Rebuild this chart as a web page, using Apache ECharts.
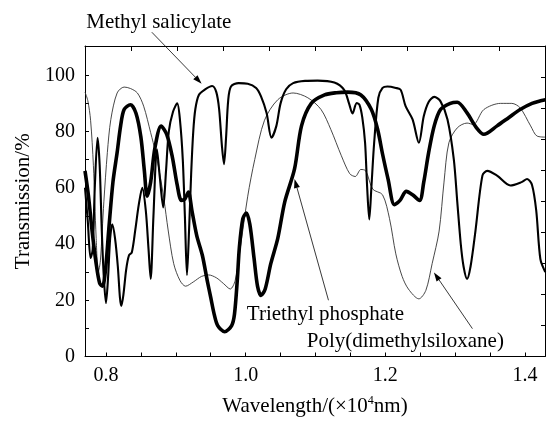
<!DOCTYPE html>
<html>
<head>
<meta charset="utf-8">
<script src="https://cdn.jsdelivr.net/npm/echarts/dist/echarts.min.js"></script>
<style>
  html, body { margin: 0; padding: 0; background: #fff; }
  #chart { width: 548px; height: 422px; }
</style>
</head>
<body>
<div id="chart"></div>
<script>
// NIR transmission spectra of three liquids (wavelength in 10^4 nm)

// Poly(dimethylsiloxane) — thin line
const pdmsWavelength = [0.770, 0.774, 0.778, 0.782, 0.786, 0.789, 0.792, 0.797, 0.802, 0.807, 0.816, 0.826, 0.835, 0.845, 0.854, 0.864, 0.871, 0.877, 0.883, 0.889, 0.897, 0.906, 0.914, 0.925, 0.937, 0.947, 0.958, 0.968, 0.978, 0.985, 0.992, 1.003, 1.013, 1.027, 1.046, 1.068, 1.089, 1.108, 1.122, 1.137, 1.149, 1.157, 1.165, 1.172, 1.182, 1.196, 1.206, 1.215, 1.224, 1.233, 1.248, 1.258, 1.267, 1.277, 1.284, 1.291, 1.303, 1.317, 1.326, 1.341, 1.365, 1.381, 1.393, 1.408, 1.417, 1.429];
const pdmsTransmission = [94, 91, 84, 68, 42, 30, 34, 55, 72.5, 84.3, 93.7, 95.8, 95.3, 93.7, 89, 79.6, 72.5, 65, 56, 45, 33, 27, 25, 26.5, 28.5, 29, 28, 26, 24, 27, 38, 57, 70, 84, 91.3, 93.7, 92, 87.8, 80.7, 71.4, 65, 64, 66.5, 66, 59.5, 57.5, 49, 36.5, 28.5, 24, 20.5, 23.5, 33, 44.6, 62, 76, 81.3, 83, 82.5, 87.8, 90, 90, 88.4, 82, 78.4, 78];

// Triethyl phosphate — thickest line
const tepWavelength = [0.770, 0.775, 0.780, 0.786, 0.791, 0.795, 0.799, 0.804, 0.810, 0.816, 0.821, 0.826, 0.835, 0.843, 0.850, 0.855, 0.859, 0.864, 0.870, 0.879, 0.887, 0.895, 0.902, 0.908, 0.913, 0.918, 0.923, 0.930, 0.938, 0.945, 0.950, 0.955, 0.960, 0.970, 0.980, 0.984, 0.988, 0.991, 0.996, 1.001, 1.006, 1.012, 1.017, 1.022, 1.028, 1.036, 1.046, 1.056, 1.070, 1.080, 1.094, 1.113, 1.130, 1.146, 1.165, 1.180, 1.189, 1.196, 1.204, 1.213, 1.221, 1.230, 1.239, 1.249, 1.255, 1.262, 1.270, 1.279, 1.293, 1.303, 1.317, 1.330, 1.341, 1.360, 1.377, 1.393, 1.410, 1.424, 1.429];
const tepTransmission = [66, 57, 45, 33, 26, 25, 30, 45, 62, 72.5, 82, 87.8, 89.5, 86.5, 78, 66, 57, 62, 74, 81.9, 79, 71, 61, 55.5, 56, 58.5, 52, 43, 36, 27, 21, 15, 11, 8.8, 11, 15, 27, 38.7, 49, 51, 47, 35, 25, 21.7, 24, 33, 42, 55, 66.7, 82, 90, 93, 93.8, 94, 93, 87.8, 80.7, 72, 63, 54, 55.5, 58.7, 57.5, 55.5, 62, 72.5, 82, 87.8, 90, 90.4, 86.6, 81.5, 79, 82, 85, 87.8, 90, 91, 91.3];

// Methyl salicylate — medium line
const msWavelength = [0.770, 0.774, 0.778, 0.781, 0.784, 0.788, 0.791, 0.794, 0.797, 0.800, 0.803, 0.806, 0.809, 0.813, 0.817, 0.820, 0.822, 0.825, 0.829, 0.833, 0.837, 0.842, 0.847, 0.852, 0.857, 0.861, 0.864, 0.868, 0.873, 0.877, 0.882, 0.886, 0.890, 0.896, 0.902, 0.906, 0.910, 0.913, 0.916, 0.919, 0.922, 0.925, 0.928, 0.933, 0.942, 0.952, 0.958, 0.962, 0.966, 0.969, 0.972, 0.975, 0.979, 0.990, 1.003, 1.015, 1.022, 1.030, 1.037, 1.044, 1.050, 1.058, 1.068, 1.085, 1.103, 1.127, 1.141, 1.148, 1.153, 1.159, 1.163, 1.167, 1.171, 1.174, 1.177, 1.180, 1.184, 1.190, 1.196, 1.203, 1.215, 1.222, 1.229, 1.239, 1.248, 1.255, 1.262, 1.270, 1.279, 1.289, 1.298, 1.303, 1.308, 1.312, 1.317, 1.322, 1.329, 1.339, 1.346, 1.360, 1.379, 1.395, 1.403, 1.410, 1.416, 1.422, 1.429];
const msTransmission = [60, 48, 35, 38, 60, 77.8, 68, 45, 28, 19, 28, 42, 47, 42, 32, 21, 18, 22, 31, 36, 37, 45, 54, 60, 52, 38, 27.6, 50, 73.7, 64, 53, 66, 80, 87, 90, 84, 70, 50, 29, 45, 65, 80, 88, 93, 95, 96.2, 94, 88, 75, 68.4, 78, 91, 96, 97.2, 97, 95.5, 92.5, 86.6, 77.8, 82, 90, 95, 97.2, 98, 98.1, 97.4, 94.8, 90, 86.4, 90.1, 89.5, 85, 76, 60, 48.7, 60, 76, 92, 95.5, 96, 95.5, 94.8, 89, 84.3, 76, 85.4, 90.5, 92.3, 90.7, 84.3, 70.2, 55, 40, 32, 27.6, 32, 44.6, 64.3, 66, 64.3, 60.8, 62, 63.1, 61, 52, 34.6, 30];

// Axis ticks and labels
const xTickValues = [0.80, 0.85, 0.90, 0.95, 1.00, 1.05, 1.10, 1.15, 1.20, 1.25, 1.30, 1.35, 1.40];
const xLabelValues = [0.8, 1.0, 1.2, 1.4];
const yTickValues = [0, 10, 20, 30, 40, 50, 60, 70, 80, 90, 100];
const yLabelValues = [0, 20, 40, 60, 80, 100];

// Curve annotations: text centre, arrow tail, arrow head (data units)
const annotations = [
  { text: 'Methyl salicylate',       label: [0.8757, 118.8], tail: [0.8657, 115.3], head: [0.937, 97.0] },
  { text: 'Triethyl phosphate',      label: [1.1143, 14.8],  tail: [1.1186, 20.0],  head: [1.070, 63.1] },
  { text: 'Poly(dimethylsiloxane)',  label: [1.2286, 5.3],   tail: [1.3247, 9.9],   head: [1.2696, 29.9] }
];

const FONT = '"Liberation Serif", "Times New Roman", serif';
const pairs = (xs, ys) => xs.map((x, i) => [x, ys[i]]);

const chart = echarts.init(document.getElementById('chart'), null, { renderer: 'canvas' });

const axisLine = { show: true, onZero: false, lineStyle: { color: '#000', width: 1 } };

chart.setOption({
  animation: false,
  backgroundColor: '#fff',
  grid: { left: 85, right: 3, top: 46, bottom: 62, containLabel: false },
  xAxis: [
    {
      type: 'value', position: 'bottom', min: 0.77, max: 1.4286,
      axisLine: axisLine,
      splitLine: { show: false },
      axisTick: { show: true, inside: true, length: 4, customValues: xTickValues, lineStyle: { color: '#000' } },
      axisLabel: { customValues: xLabelValues, formatter: v => v.toFixed(1), color: '#000', fontFamily: FONT, fontSize: 20, margin: 9 },
      name: '{a|Wavelength/(×10}{b|4}{a|nm)}',
      nameLocation: 'middle', nameGap: 38,
      nameTextStyle: {
        rich: {
          a: { fontFamily: FONT, fontSize: 21, color: '#000', lineHeight: 24 },
          b: { fontFamily: FONT, fontSize: 12, color: '#000', verticalAlign: 'top', lineHeight: 14 }
        }
      }
    },
    {
      type: 'value', position: 'top', min: 0, max: 10, interval: 1,
      axisLine: axisLine, splitLine: { show: false },
      axisTick: { show: true, inside: true, length: 5, lineStyle: { color: '#000' } },
      axisLabel: { show: false }
    }
  ],
  yAxis: [
    {
      type: 'value', position: 'left', min: 0, max: 110.4,
      axisLine: axisLine,
      splitLine: { show: false },
      axisTick: { show: true, inside: true, length: 4, customValues: yTickValues, lineStyle: { color: '#000' } },
      axisLabel: { customValues: yLabelValues, color: '#000', fontFamily: FONT, fontSize: 20, margin: 10 },
      name: 'Transmission/%',
      nameLocation: 'middle', nameRotate: 90, nameGap: 50,
      nameTextStyle: { fontFamily: FONT, fontSize: 21, color: '#000' }
    },
    {
      type: 'value', position: 'right', min: 0, max: 10, interval: 1,
      axisLine: axisLine, splitLine: { show: false },
      axisTick: { show: true, inside: true, length: 4, lineStyle: { color: '#000' } },
      axisLabel: { show: false }
    }
  ],
  series: [
    {
      name: 'Poly(dimethylsiloxane)', type: 'line', xAxisIndex: 0, yAxisIndex: 0,
      data: pairs(pdmsWavelength, pdmsTransmission),
      showSymbol: false, smooth: 0.3, clip: true,
      lineStyle: { color: '#333', width: 0.9 }
    },
    {
      name: 'Methyl salicylate', type: 'line', xAxisIndex: 0, yAxisIndex: 0,
      data: pairs(msWavelength, msTransmission),
      showSymbol: false, smooth: 0.3, clip: true,
      lineStyle: { color: '#000', width: 2.1 }
    },
    {
      name: 'Triethyl phosphate', type: 'line', xAxisIndex: 0, yAxisIndex: 0,
      data: pairs(tepWavelength, tepTransmission),
      showSymbol: false, smooth: 0.3, clip: true,
      lineStyle: { color: '#000', width: 3.6 }
    }
  ]
});

// Labels with arrows pointing at their curves
function toPx(p) { return chart.convertToPixel({ xAxisIndex: 0, yAxisIndex: 0 }, p); }
const graphics = [];
annotations.forEach(a => {
  const t = toPx(a.tail), h = toPx(a.head), c = toPx(a.label);
  const dx = h[0] - t[0], dy = h[1] - t[1];
  const len = Math.sqrt(dx * dx + dy * dy);
  const ux = dx / len, uy = dy / len;
  const headLen = 9, headHalf = 3;
  const bx = h[0] - ux * headLen, by = h[1] - uy * headLen;
  graphics.push({
    type: 'line', silent: true,
    shape: { x1: t[0], y1: t[1], x2: bx, y2: by },
    style: { stroke: '#222', lineWidth: 0.9 }
  });
  graphics.push({
    type: 'polygon', silent: true,
    shape: { points: [[h[0], h[1]], [bx - uy * headHalf, by + ux * headHalf], [bx + uy * headHalf, by - ux * headHalf]] },
    style: { fill: '#000' }
  });
  graphics.push({
    type: 'text', silent: true, x: c[0], y: c[1],
    style: { text: a.text, fill: '#000', font: '21px ' + FONT, textAlign: 'center', textVerticalAlign: 'middle' }
  });
});
chart.setOption({ graphic: graphics });
</script>
</body>
</html>
